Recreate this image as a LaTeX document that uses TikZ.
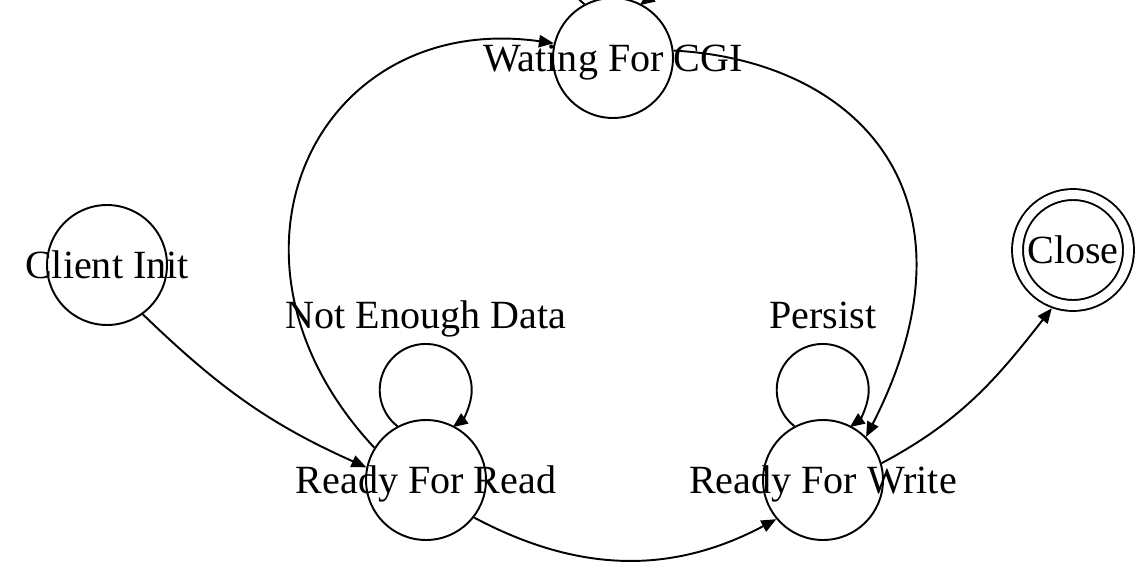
\documentclass[tikz,border=0pt]{standalone}
\usepackage{fontspec}
\setmainfont{Liberation Serif}
\usetikzlibrary{arrows.meta}

\begin{document}
\begin{tikzpicture}[x=0.02cm,y=0.02cm,line width=1.1pt,
  >={Triangle[length=8.5pt,width=7pt]},
  state/.style={draw,circle,inner sep=0pt,minimum size=2.4cm,
    font=\fontsize{22.8}{27}\selectfont,text height=20.5pt,text depth=5.7pt},
  final/.style={state,double,double distance=0.18cm,minimum size=2.22cm,outer sep=0.13cm},
  lbl/.style={font=\fontsize{22.8}{27}\selectfont,inner sep=0pt,anchor=base}]
\useasboundingbox (0,0) rectangle (1146,576);
\clip (0,0) rectangle (1146,576);

% States
\node[state] (ci) at (107,311) {\makebox[0pt]{Client Init}};
\node[state] (wc) at (613,518) {\makebox[0pt]{Wating For CGI}};
\node[state] (rr) at (426,96) {\makebox[0pt]{Ready For Read}};
\node[state] (rw) at (823,96) {\makebox[0pt]{Ready For Write}};
\node[final] (cl) at (1073,326) {\makebox[0pt]{Close}};

% Self loops
\draw[->] (rr.118) arc[start angle=232,end angle=-54,radius=46];
\draw[->] (rw.118) arc[start angle=232,end angle=-54,radius=46];
\draw[->] (wc.118) arc[start angle=232,end angle=-54,radius=46];
\node[lbl] (nd) at ([yshift=3.04cm]rr.center) {Not Enough Data};
\node[lbl] (ps) at ([yshift=3.04cm]rw.center) {Persist};

% Transitions
\draw[->] (ci.-54) to[out=-44,in=156] (rr.168);
\draw[->] (rr.148) to[out=133,in=172,out distance=5.2cm,in distance=4.8cm] (wc.166);
\draw[->] (wc.7) to[out=-3,in=63,out distance=3.7cm,in distance=5.4cm] (rw.45);
\draw[->] (rr.-38) to[out=-28,in=208] (rw.220);
\draw[->] (rw.16) to[out=28,in=232] (cl.250);
\end{tikzpicture}
\end{document}
